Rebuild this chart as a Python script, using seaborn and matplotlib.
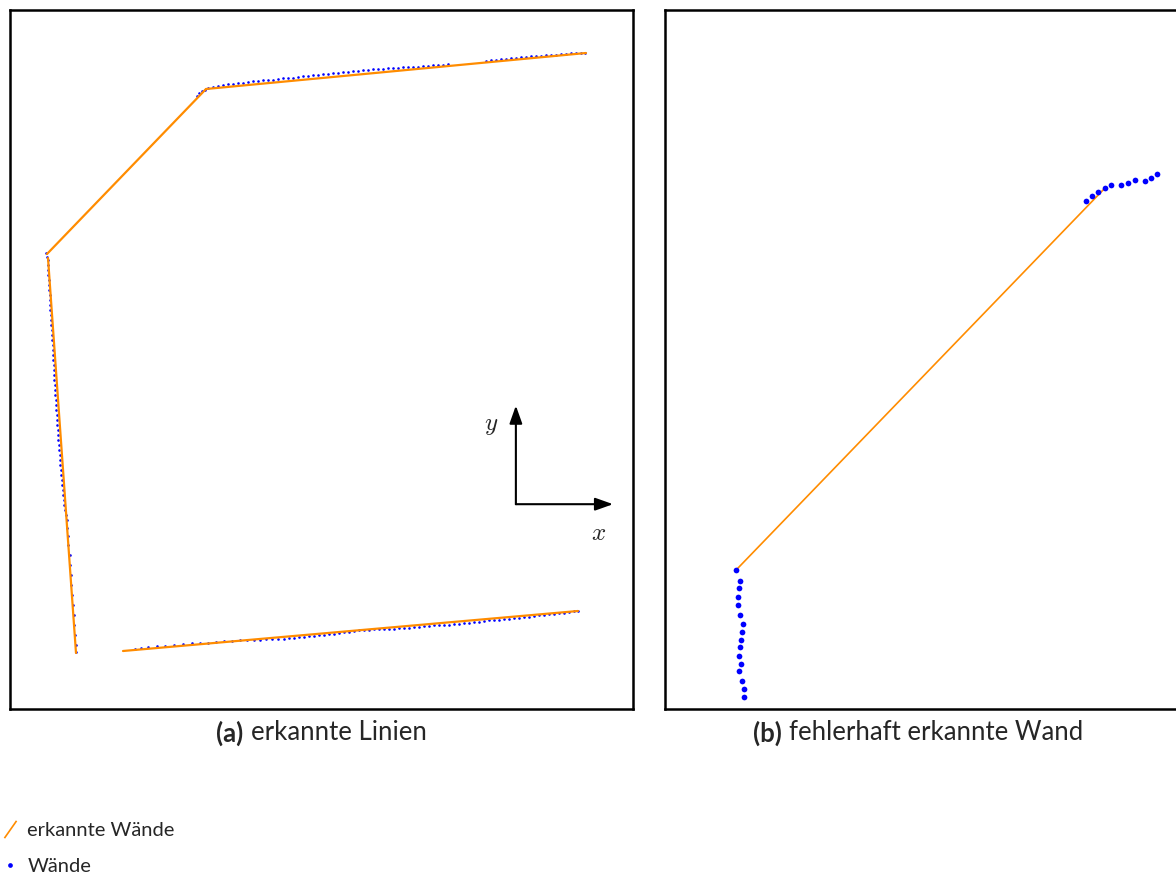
import numpy as np
import pandas as pd
import matplotlib
matplotlib.use("Agg")
import matplotlib.pyplot as plt
from matplotlib.lines import Line2D
from matplotlib.path import Path
import seaborn as sns

# ---------------------------------------------------------------
# Floor plan data (cm)
# ---------------------------------------------------------------
# (a) fitted wall segments: start / end points
seg_a_x0 = [37, 196, 38, 113]
seg_a_y0 = [455, 620, 451, 58]
seg_a_x1 = [196, 576, 66, 568]
seg_a_y1 = [620, 656, 56, 98]

# (a) measured wall points
top_x = [186.7, 189.3, 192, 195,
         198, 203, 208, 213, 218, 223, 228, 233, 238, 243, 248, 253, 258, 263,
         268, 273, 278, 283, 288, 293, 298, 303, 308, 313, 318, 323, 328, 333,
         338, 343, 348, 353, 358, 363, 368, 373, 378, 383, 388, 393, 398, 403,
         408, 413, 418, 423, 428, 433, 438,
         476, 481, 486, 491, 496, 501, 506, 511, 516, 521, 526, 531, 536, 541,
         546, 551, 556, 561, 566, 571, 575]
top_y = [613.3, 615.7, 618, 619.5,
         621.2, 622.2, 622.9, 623.9, 624.7, 624.8, 625.8, 626.5, 626.6, 627.6,
         627.9, 628.7, 628.8, 629.5, 629.8, 630.7, 631.4, 631.4, 632.2, 633.0,
         633.1, 634.0, 634.2, 635.1, 635.4, 636.2, 636.4, 637.3, 637.4, 637.6,
         638.5, 638.7, 638.9, 639.7, 639.7, 640.5, 640.7, 641.0, 641.2, 641.6,
         641.8, 642.5, 642.5, 643.2, 643.2, 643.9, 644.0, 644.5, 644.7,
         648.1, 648.9, 649.2, 649.9, 650.2, 651.0, 651.3, 652.0, 652.0, 652.7,
         652.9, 653.5, 653.6, 654.3, 654.4, 654.9, 655.1, 655.7, 655.8, 656.4,
         656.5]

left_x = [36.3, 37.0, 37.8, 38.0, 38.2, 38.4, 38.7, 38.9, 39.2, 39.5, 39.7,
          40.0, 40.2, 40.7, 40.9, 41.1, 41.7, 41.7, 42.0, 42.6, 42.6, 42.9,
          43.3, 43.5, 43.8, 44.3, 44.4, 44.6, 45.2, 45.3, 45.7, 45.9, 46.3,
          46.5, 46.9, 47.1, 47.6, 48.1, 48.2, 48.7, 49.0, 49.6, 49.8, 50.4,
          50.8, 51.1, 51.7, 52.1, 52.7, 53.1, 53.6, 54.3, 55.1, 56.2, 57.0,
          57.3, 58.3, 58.4, 59.6, 60.0, 61.1, 61.3, 62.3, 62.8, 63.9, 64.3,
          65.4, 65.7, 66.3]
left_y = [455.7, 452, 449, 444, 439, 434, 429, 424, 419, 414, 409, 404, 399,
          394, 389, 384, 379, 374, 369, 364, 359, 354, 349, 344, 339, 334, 329,
          324, 319, 314, 309, 304, 299, 294, 289, 284, 279, 274, 269, 264, 259,
          254, 249, 244, 239, 234, 229, 224, 219, 214, 209, 204, 199, 194, 189,
          181, 173, 164, 154, 144, 134, 124, 114, 104, 94, 84, 74, 64, 57]

bottom_x = [125, 131, 138, 147, 155, 164, 173, 182, 190, 198, 206, 214, 222,
            230, 237, 244, 250, 256, 262, 268, 274, 279, 284, 289, 294, 299,
            304, 309, 314, 319, 324, 329, 334, 339, 344, 349, 354, 359, 364,
            369, 374, 379, 384, 389, 394, 399, 404, 409, 414, 419, 424, 429,
            434, 439, 444, 449, 454, 459, 464, 469, 474, 479, 484, 489, 494,
            499, 504, 509, 514, 519, 524, 529, 534, 539, 544, 549, 554, 559,
            564, 568]
bottom_y = [60.3, 61.4, 61.8, 62.9, 63.2, 64.3, 64.6, 65.7, 66.0, 66.5, 67.5,
            67.7, 68.1, 68.6, 68.9, 69.2, 69.4, 69.7, 69.8, 70.1, 70.4, 71.2,
            71.1, 71.9, 71.9, 72.7, 72.9, 73.7, 73.9, 74.7, 75.4, 76.1, 76.7,
            77.5, 78.0, 78.6, 79.3, 79.4, 79.6, 79.8, 80.0, 80.3, 80.5, 81.1,
            81.2, 81.4, 82.2, 82.2, 82.9, 82.9, 83.6, 83.7, 84.4, 84.5, 85.2,
            85.5, 86.3, 86.3, 87.1, 87.1, 87.8, 88.6, 88.6, 89.4, 89.6, 90.4,
            90.6, 91.4, 91.7, 92.5, 92.7, 93.6, 93.8, 94.7, 95.0, 95.8, 96.2,
            97.0, 97.7, 98.2]

# (b) a wrongly detected wall between two measured wall pieces
seg_b_x0 = [71.3]
seg_b_y0 = [139.2]
seg_b_x1 = [439.7]
seg_b_y1 = [520.7]

pts_b_x = [71.3, 75, 73.7, 73, 72.7, 75.3, 78.3, 76.7, 76, 74.7, 74.3, 76.3,
           74.3, 77.3, 79, 79,
           421, 427, 433, 439.7, 446.3, 455.7, 463, 470.3, 479.7, 486.3, 492.3]
pts_b_y = [139.2, 128.5, 120.6, 112.3, 104.1, 94.4, 84.7, 77.5, 69.3, 61.8,
           53.5, 44.6, 37.8, 28, 19.8, 12,
           508.1, 512.8, 517.4, 520.7, 524.2, 523.9, 526.4, 528.9, 527.8,
           531.4, 535]

CAPTIONS = [("(a)", "erkannte Linien"), ("(b)", "fehlerhaft erkannte Wand")]
LEGEND_LINES = "erkannte Wände"
LEGEND_POINTS = "Wände"

ORANGE = "#ff8c00"
BLUE = "#0000ff"


def segments_frame(x0, y0, x1, y1):
    rows = []
    for i, (a, b, c, d) in enumerate(zip(x0, y0, x1, y1)):
        rows.append({"seg": i, "x": a, "y": b})
        rows.append({"seg": i, "x": c, "y": d})
    return pd.DataFrame(rows)


seg_a = segments_frame(seg_a_x0, seg_a_y0, seg_a_x1, seg_a_y1)
seg_b = segments_frame(seg_b_x0, seg_b_y0, seg_b_x1, seg_b_y1)
pts_a = pd.DataFrame({
    "x": top_x + left_x + bottom_x,
    "y": top_y + left_y + bottom_y,
})
pts_b = pd.DataFrame({"x": pts_b_x, "y": pts_b_y})

sns.set_theme(style="white")
plt.rcParams["font.family"] = ["Lato", "DejaVu Sans"]
plt.rcParams["mathtext.fontset"] = "cm"

W, H = 1176, 874
fig = plt.figure(figsize=(W / 100, H / 100), dpi=100)
fig.patch.set_facecolor("white")

ax_w, ax_h = 623 / W, 699 / H
ax_bottom = 1 - 709 / H
ax_a = fig.add_axes([10 / W, ax_bottom, ax_w, ax_h])
ax_b = fig.add_axes([665 / W, ax_bottom, ax_w, ax_h])

for ax in (ax_a, ax_b):
    ax.set_xlim(0, 623)
    ax.set_ylim(0, 699)
    ax.set_xticks([])
    ax.set_yticks([])
    for sp in ax.spines.values():
        sp.set_visible(True)
        sp.set_color("black")
        sp.set_linewidth(1.8)

# (a) measured points and fitted lines
sns.scatterplot(data=pts_a, x="x", y="y", ax=ax_a, color=BLUE, s=3.5,
                linewidth=0, legend=False, zorder=2)
sns.lineplot(data=seg_a, x="x", y="y", units="seg", estimator=None,
             sort=False, ax=ax_a, color=ORANGE, lw=1.6, legend=False, zorder=3)

# (b)
sns.lineplot(data=seg_b, x="x", y="y", units="seg", estimator=None,
             sort=False, ax=ax_b, color=ORANGE, lw=1.2, legend=False, zorder=2)
sns.scatterplot(data=pts_b, x="x", y="y", ax=ax_b, color=BLUE, s=17,
                linewidth=0, legend=False, zorder=3)

for ax in (ax_a, ax_b):
    ax.set_xlabel("")
    ax.set_ylabel("")

# coordinate system glyph
arrow_kw = dict(arrowstyle="-|>,head_length=0.9,head_width=0.32",
                color="black", lw=1.5, shrinkA=0, shrinkB=0)
origin = (0.812, 0.293)
ax_a.annotate("", xy=(0.968, 0.293), xytext=origin, xycoords="axes fraction",
              textcoords="axes fraction", arrowprops=arrow_kw)
ax_a.annotate("", xy=(0.812, 0.434), xytext=origin, xycoords="axes fraction",
              textcoords="axes fraction", arrowprops=arrow_kw)
ax_a.text(0.772, 0.406, r"$y$", transform=ax_a.transAxes, fontsize=18,
          ha="center", va="center")
ax_a.text(0.944, 0.252, r"$x$", transform=ax_a.transAxes, fontsize=18,
          ha="center", va="center")

# sub captions: bold label followed by regular text, centred as one line
renderer = fig.canvas.get_renderer()
cap_y = 1 - 733 / H
cap_fs = 18.5
gap = 7
for (label, text), x_mid in zip(CAPTIONS, [321.5, 918.5]):
    t1 = fig.text(0, cap_y, label, fontsize=cap_fs, fontweight="bold",
                  ha="left", va="center")
    t2 = fig.text(0, cap_y, text, fontsize=cap_fs, ha="left", va="center")
    w1 = t1.get_window_extent(renderer).width
    w2 = t2.get_window_extent(renderer).width
    x0 = x_mid - (w1 + gap + w2) / 2
    t1.set_x(x0 / W)
    t2.set_x((x0 + w1 + gap) / W)

# legend
slash = Path([(-0.35, -0.5), (0.35, 0.5)], [Path.MOVETO, Path.LINETO])
handles = [
    Line2D([], [], ls="none", marker=slash, markersize=12.5,
           markeredgecolor=ORANGE, markerfacecolor="none", markeredgewidth=1.2),
    Line2D([], [], ls="none", marker="o", markersize=3.4,
           markeredgewidth=0, markerfacecolor=BLUE),
]
fig.legend(handles, [LEGEND_LINES, LEGEND_POINTS], loc="upper left",
           bbox_to_anchor=(3 / W, 1 - 822 / H), frameon=False, fontsize=14.5,
           handlelength=0.74, handletextpad=0.47, labelspacing=0.95,
           borderpad=0.0, borderaxespad=0.0, numpoints=1)

fig.savefig("out.png", dpi=100, facecolor="white")
